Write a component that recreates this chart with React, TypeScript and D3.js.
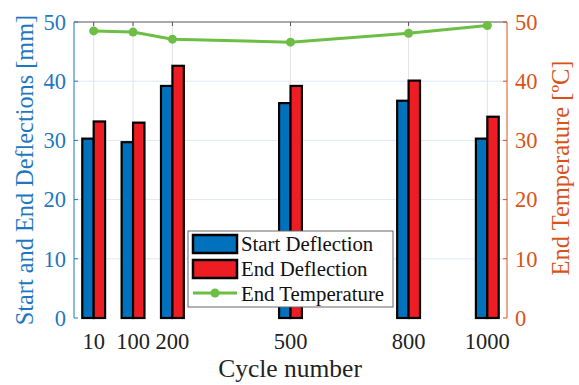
import React from "react";
import * as d3 from "d3";

const cycles = [0, 100, 200, 500, 800, 1000];
const cycleLabels = ["10", "100", "200", "500", "800", "1000"];
const startDeflection = [30.3, 29.7, 39.2, 36.3, 36.7, 30.3];
const endDeflection = [33.2, 33.0, 42.6, 39.2, 40.1, 34.0];
const endTemperature = [48.5, 48.3, 47.1, 46.6, 48.1, 49.4];
const leftTicks = [0, 10, 20, 30, 40, 50];
const rightTicks = [0, 10, 20, 30, 40, 50];

const W = 579;
const H = 385;
const M = { left: 74, right: 507, top: 22, bottom: 318 };
const FONT = "Liberation Serif, DejaVu Serif, serif";
const BLUE = "#0072BD";
const RED = "#EE1D23";
const GREEN = "#6DBE45";
const ORANGE = "#D95319";
const AXBLUE = "#1F77C0";
const TS = { fontFamily: FONT };

export default function App() {
  const x = d3.scaleLinear().domain([-50, 1050]).range([M.left, M.right]);
  const yL = d3.scaleLinear().domain([0, 50]).range([M.bottom, M.top]);
  const yR = d3.scaleLinear().domain([0, 50]).range([M.bottom, M.top]);
  const bw = x(29) - x(0);
  const line = d3
    .line<number>()
    .x((_, i) => x(cycles[i]))
    .y((d) => yR(d));

  return (
    <svg width={W} height={H} style={{ position: "absolute", left: 0, top: 0, fontFamily: FONT }}>
      <rect x={0} y={0} width={W} height={H} fill="#fff" />
      {leftTicks.slice(1, -1).map((t) => (
        <line key={"gy" + t} x1={M.left} x2={M.right} y1={yL(t)} y2={yL(t)} stroke="#dde9f3" strokeWidth={1} />
      ))}
      {cycles.map((c) => (
        <line key={"gx" + c} x1={x(c)} x2={x(c)} y1={M.top} y2={M.bottom} stroke="#e3e3e3" strokeWidth={1} />
      ))}
      {cycles.map((c, i) => (
        <g key={"b" + c}>
          <rect x={x(c) - bw} y={yL(startDeflection[i])} width={bw} height={M.bottom - yL(startDeflection[i])} fill={BLUE} stroke="#000" strokeWidth={2.2} />
          <rect x={x(c)} y={yL(endDeflection[i])} width={bw} height={M.bottom - yL(endDeflection[i])} fill={RED} stroke="#000" strokeWidth={2.2} />
        </g>
      ))}
      <line x1={M.left} x2={M.right} y1={M.top} y2={M.top} stroke="#555" strokeWidth={1} />
      {cycles.map((c) => (
        <line key={"tt" + c} x1={x(c)} x2={x(c)} y1={M.top} y2={M.top + 4} stroke="#555" strokeWidth={1} />
      ))}
      <line x1={M.left} x2={M.left} y1={M.top} y2={M.bottom} stroke={AXBLUE} strokeWidth={1} />
      {leftTicks.map((t) => (
        <g key={"lt" + t}>
          <line x1={M.left} x2={M.left + 4} y1={yL(t)} y2={yL(t)} stroke={AXBLUE} />
          <text style={TS} x={M.left - 8} y={yL(t)} dy="0.35em" textAnchor="end" fontSize={22.5} fill={AXBLUE}>{t}</text>
        </g>
      ))}
      <line x1={M.right} x2={M.right} y1={M.top} y2={M.bottom} stroke={ORANGE} strokeWidth={1} />
      {rightTicks.map((t) => (
        <g key={"rt" + t}>
          <line x1={M.right - 4} x2={M.right} y1={yR(t)} y2={yR(t)} stroke={ORANGE} />
          <text style={TS} x={M.right + 8} y={yR(t)} dy="0.35em" textAnchor="start" fontSize={22.5} fill={ORANGE}>{t}</text>
        </g>
      ))}
      {cycles.map((c, i) => (
        <text style={TS} key={"xl" + c} x={x(c)} y={349} textAnchor="middle" fontSize={22.5} fill="#222">{cycleLabels[i]}</text>
      ))}
      <path d={line(endTemperature) || ""} fill="none" stroke={GREEN} strokeWidth={3} />
      {endTemperature.map((t, i) => (
        <circle key={"tc" + i} cx={x(cycles[i])} cy={yR(t)} r={4.5} fill={GREEN} />
      ))}
      <text style={TS} transform="translate(33,170) rotate(-90)" textAnchor="middle" fontSize={24.3} fill={AXBLUE}>Start and End Deflections [mm]</text>
      <text style={TS} transform="translate(569,168) rotate(-90)" textAnchor="middle" fontSize={24.5} fill={ORANGE}>End Temperature [ºC]</text>
      <text style={TS} x={290} y={377} textAnchor="middle" fontSize={25.5} fill="#222">Cycle number</text>
      <g>
        <rect x={188} y={231} width={205} height={76} fill="#fff" stroke="#666" strokeWidth={1} />
        <rect x={193} y={235} width={44} height={18} fill={BLUE} stroke="#000" strokeWidth={2.5} />
        <rect x={193} y={260} width={44} height={18} fill={RED} stroke="#000" strokeWidth={2.5} />
        <line x1={193} x2={237} y1={293} y2={293} stroke={GREEN} strokeWidth={3} />
        <circle cx={215} cy={293} r={4.5} fill={GREEN} />
        <text style={TS} x={241} y={251} fontSize={20.8} fill="#111">Start Deflection</text>
        <text style={TS} x={241} y={276} fontSize={20.8} fill="#111">End Deflection</text>
        <text style={TS} x={241} y={301} fontSize={20.8} fill="#111">End Temperature</text>
      </g>
    </svg>
  );
}
